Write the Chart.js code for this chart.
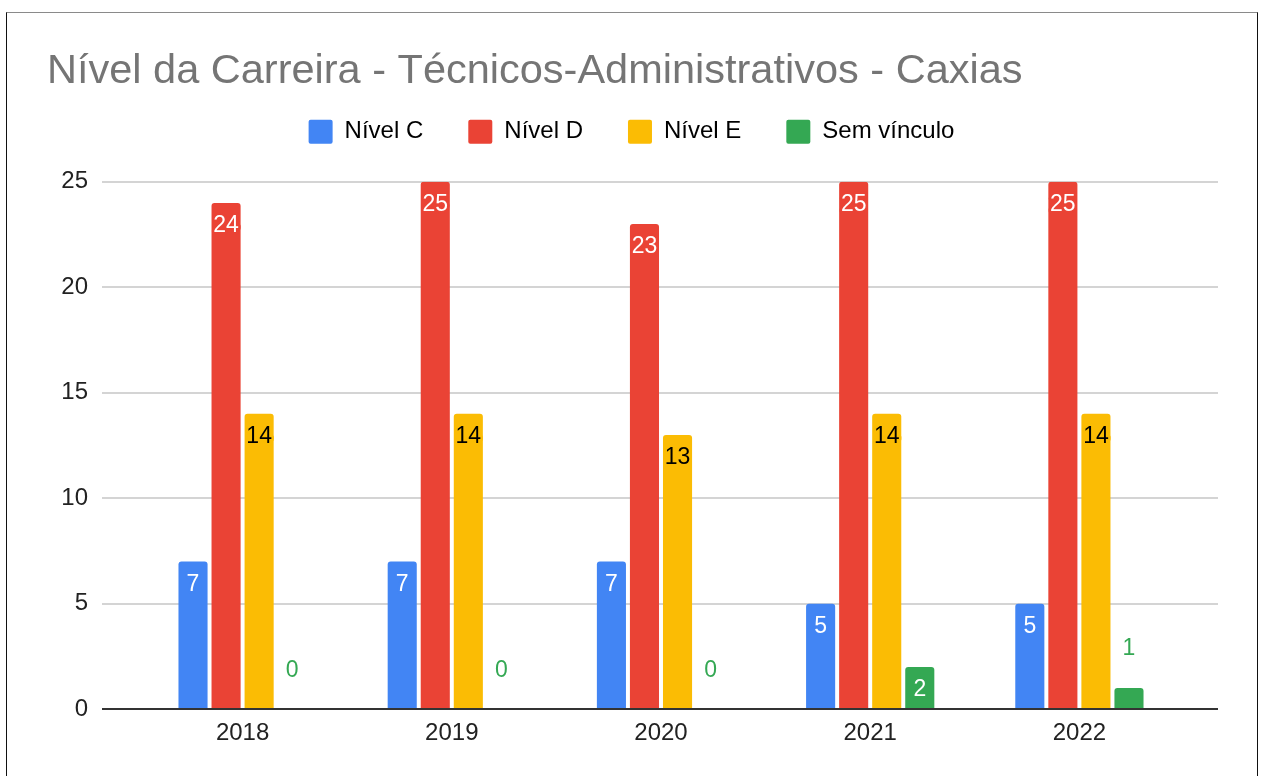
<!DOCTYPE html>
<html>
<head>
<meta charset="utf-8">
<script src="https://cdn.jsdelivr.net/npm/chart.js@4.4.1/dist/chart.umd.min.js"></script>
<style>
  body { margin: 0; background: #fff; }
  #wrap { position: relative; width: 1265px; height: 776px; overflow: hidden; }
  #frame { position: absolute; left: 6px; top: 12px; width: 1252px; height: 800px;
           border: 1px solid #111; border-top-color: #8a8a8a; box-sizing: border-box; }
  #chart { position: absolute; left: 0; top: 0; }
</style>
</head>
<body>
<div id="wrap">
  <div id="frame"></div>
  <canvas id="chart" width="1265" height="776"></canvas>
</div>
<script>
// data
const years = ['2018', '2019', '2020', '2021', '2022'];
const nivelC = [7, 7, 7, 5, 5];
const nivelD = [24, 25, 23, 25, 25];
const nivelE = [14, 14, 13, 14, 14];
const semVinculo = [0, 0, 0, 2, 1];
const seriesNames = ['Nível C', 'Nível D', 'Nível E', 'Sem vínculo'];
const seriesColors = ['#4285F4', '#EA4335', '#FBBC04', '#34A853'];
const insideText = ['#ffffff', '#ffffff', '#000000', '#ffffff'];
const yMin = 0, yMax = 25, yStep = 5;

const FONT = "'Liberation Sans', Arial, sans-serif";

// long grid lines + dark baseline, wider than the bar area
const gridLines = {
  id: 'gridLines',
  beforeDatasetsDraw(chart) {
    const ctx = chart.ctx;
    const y = chart.scales.y;
    const x0 = 102, x1 = 1218;
    ctx.save();
    y.ticks.forEach(t => {
      const py = Math.round(y.getPixelForValue(t.value));
      if (t.value === 0) return;
      ctx.strokeStyle = '#d4d4d4';
      ctx.lineWidth = 2;
      ctx.beginPath(); ctx.moveTo(x0, py); ctx.lineTo(x1, py); ctx.stroke();
    });
    ctx.restore();
  },
  afterDatasetsDraw(chart) {
    const ctx = chart.ctx;
    const py = Math.round(chart.scales.y.getPixelForValue(0));
    ctx.save();
    ctx.strokeStyle = '#333';
    ctx.lineWidth = 2;
    ctx.beginPath(); ctx.moveTo(102, py); ctx.lineTo(1218, py); ctx.stroke();
    ctx.restore();
  }
};

// value labels: inside the bar top when there is room, above it otherwise
const barLabels = {
  id: 'barLabels',
  afterDatasetsDraw(chart) {
    const ctx = chart.ctx;
    ctx.save();
    ctx.font = '23px ' + FONT;
    ctx.textAlign = 'center';
    ctx.textBaseline = 'middle';
    ctx.lineJoin = 'round';
    chart.data.datasets.forEach((ds, i) => {
      chart.getDatasetMeta(i).data.forEach((bar, j) => {
        const v = ds.data[j];
        const h = bar.base - bar.y;
        if (h >= 30) {
          const ty = bar.y + 23;
          ctx.strokeStyle = seriesColors[i];
          ctx.lineWidth = 5;
          ctx.strokeText(String(v), bar.x, ty);
          ctx.fillStyle = insideText[i];
          ctx.fillText(String(v), bar.x, ty);
        } else {
          ctx.fillStyle = seriesColors[i];
          ctx.fillText(String(v), bar.x, bar.y - 39);
        }
      });
    });
    ctx.restore();
  }
};

// move the legend: centred on the page and pulled up under the title
const legendShift = {
  id: 'legendShift',
  afterLayout(chart) {
    const lg = chart.legend;
    lg.left += 16;
    lg.right += 16;
    lg.top -= 28;
    lg.bottom -= 28;
  }
};

const values = [nivelC, nivelD, nivelE, semVinculo];

chart = new Chart(document.getElementById('chart'), {
  type: 'bar',
  data: {
    labels: years,
    datasets: values.map((d, i) => ({
      label: seriesNames[i],
      data: d,
      backgroundColor: seriesColors[i],
      borderRadius: { topLeft: 3, topRight: 3 },
      borderSkipped: 'start',
      categoryPercentage: 0.632,
      barPercentage: 0.88
    }))
  },
  options: {
    responsive: false,
    animation: false,
    layout: { padding: { left: 47, right: 81, top: 0, bottom: 26 } },
    plugins: {
      title: {
        display: true,
        text: 'Nível da Carreira - Técnicos-Administrativos - Caxias',
        align: 'start',
        color: '#757575',
        font: { size: 41.5, family: FONT, weight: 'normal' },
        padding: { top: 47, bottom: 6 }
      },
      legend: {
        display: true,
        labels: {
          boxWidth: 24,
          boxHeight: 24,
          padding: 45,
          color: '#222',
          font: { size: 24, family: FONT },
          generateLabels(c) {
            return c.data.datasets.map((ds, i) => ({
              text: ds.label,
              fillStyle: seriesColors[i],
              strokeStyle: seriesColors[i],
              lineWidth: 0,
              borderRadius: 2,
              datasetIndex: i
            }));
          }
        }
      },
      tooltip: { enabled: false }
    },
    scales: {
      x: {
        grid: { display: false },
        border: { display: false },
        ticks: { color: '#222', font: { size: 24, family: FONT }, padding: 2 }
      },
      y: {
        min: yMin,
        max: yMax,
        grid: { display: false },
        border: { display: false },
        afterFit(scale) { scale.width = 91; },
        ticks: { stepSize: yStep, color: '#222', font: { size: 24, family: FONT }, padding: 42 }
      }
    }
  },
  plugins: [gridLines, barLabels, legendShift]
});
</script>
</body>
</html>
